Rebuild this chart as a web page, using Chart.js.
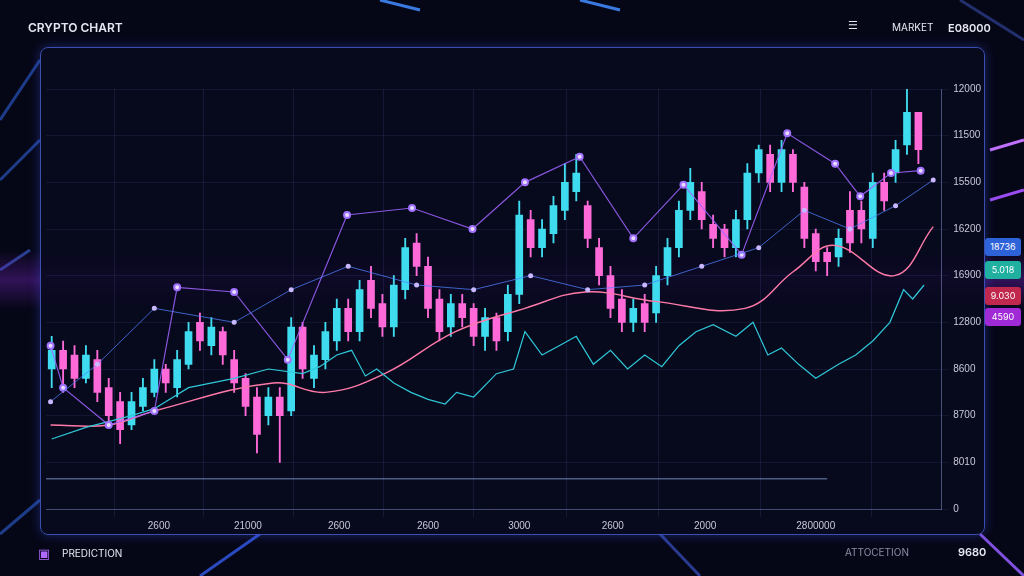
<!DOCTYPE html>
<html>
<head>
<meta charset="utf-8">
<script src="https://cdn.jsdelivr.net/npm/chart.js@4.4.1/dist/chart.umd.min.js"></script>
<style>
  html, body { margin: 0; padding: 0; background: #060716; width: 1024px; height: 576px; overflow: hidden; font-family: "Inter", "DejaVu Sans", sans-serif; }
  #bg { position: absolute; left: 0; top: 0; }
  .band { position: absolute; left: 0; top: 250px; width: 1024px; height: 60px;
    background: linear-gradient(180deg, rgba(120,40,200,0) 0%, rgba(130,40,210,0.35) 50%, rgba(120,40,200,0) 100%); }
  .panel { position: absolute; left: 40px; top: 47px; width: 943px; height: 486px; border: 1.5px solid #3a4fb0;
    border-radius: 8px; background: rgba(8,9,30,0.85); box-shadow: 0 0 12px rgba(70,90,255,0.35); }
  #wrap { position: absolute; left: 40px; top: 47px; width: 945px; height: 488px; }
  .t { position: absolute; color: #e8e8f4; font-size: 12px; font-weight: 600; }
  .badge { position: absolute; left: 985px; width: 36px; height: 18px; border-radius: 3px; color: #fff;
    font-size: 9px; line-height: 18px; text-align: center; }
</style>
</head>
<body>
<canvas id="bg" width="1024" height="576"></canvas>
<div class="band"></div>
<div class="panel"></div>
<div id="wrap"><canvas id="chart"></canvas></div>
<div class="t" style="left:28px;top:20px;font-size:12px;">CRYPTO CHART</div>
<div class="t" style="left:848px;top:18px;font-size:11px;">&#9776;</div>
<div class="t" style="left:892px;top:21px;font-size:10px;font-weight:400;">MARKET</div>
<div class="t" style="left:948px;top:21px;font-size:11px;">E08000</div>
<div class="t" style="left:38px;top:545px;color:#b068ff;font-size:13px;">&#9635;</div>
<div class="t" style="left:62px;top:547px;font-size:10px;font-weight:400;">PREDICTION</div>
<div class="t" style="left:845px;top:546px;font-size:10px;font-weight:400;color:#8a8fa8;">ATTOCETION</div>
<div class="t" style="left:958px;top:545px;font-size:11px;">9680</div>
<div class="badge" style="top:238px;background:#2e62d8;">18736</div>
<div class="badge" style="top:261px;background:#1fb0a0;">5.018</div>
<div class="badge" style="top:287px;background:#c0284e;">9.030</div>
<div class="badge" style="top:308px;background:#a02ad6;">4590</div>
<script>
// decorative background streaks
const bg = document.getElementById('bg').getContext('2d');
const streaks = [[0,120,40,60,'#1d3d8a'],[0,180,40,140,'#1d3d8a'],[0,270,30,250,'#28408f'],[990,150,1024,140,'#c070ff'],
  [990,200,1024,190,'#9a4cf0'],[200,576,260,534,'#2a4ac0'],[700,576,660,534,'#2a3a90'],[960,0,1024,40,'#22306e'],
  [980,534,1024,576,'#8050e0'],[0,534,40,500,'#1d3d8a'],[380,0,420,10,'#3a7ae0'],[580,0,620,10,'#3a7ae0']];
streaks.forEach(s => { bg.strokeStyle = s[4]; bg.lineWidth = 3; bg.beginPath(); bg.moveTo(s[0], s[1]); bg.lineTo(s[2], s[3]); bg.stroke(); });

// y axis tick labels (top to bottom reads 12000 ... 0)
const yTickLabels = ['0', '8010', '8700', '8600', '12800', '16900', '16200', '15500', '11500', '12000'];
const xTickPos = [10.4, 18.2, 26.2, 34, 42, 50.2, 58.3, 68];
const xTickLabels = ['2600', '21000', '2600', '2600', '3000', '2600', '2000', '2800000'];

// candles: open, close, high, low
const opens  = [300,340,330,280,320,260,230,180,220,250,300,260,310,400,350,380,320,280,240,200,240,210,390,280,320,360,430,380,490,440,390,470,570,520,450,390,440,430,370,410,380,460,620,560,590,640,680,650,560,500,450,400,440,420,500,560,640,680,610,600,560,620,720,760,700,760,690,590,550,540,640,640,580,700,720,780,850];
const closes = [340,300,280,330,250,200,170,230,260,300,270,320,380,360,390,330,270,220,160,240,200,390,300,330,380,430,380,470,430,390,480,560,520,430,380,440,410,370,410,360,460,630,560,600,650,700,720,580,500,430,400,430,400,500,560,640,700,620,580,560,620,720,770,700,770,700,580,530,530,580,570,600,700,660,770,850,770];
const highs  = [370,360,350,350,340,280,250,250,280,320,310,340,400,420,410,390,340,290,260,260,260,410,400,350,400,450,450,490,520,460,500,580,590,540,470,460,460,440,430,420,480,660,640,620,670,740,760,660,580,520,470,450,460,520,580,660,730,700,630,610,640,740,780,780,790,770,700,600,560,600,680,660,720,720,790,900,830];
const lows   = [260,250,260,270,230,180,140,170,210,240,250,240,300,340,330,310,250,200,120,180,100,200,280,260,300,340,360,360,410,370,370,450,500,410,360,370,390,350,340,340,360,440,540,540,570,620,660,560,480,410,380,380,380,400,480,540,620,600,560,540,540,600,700,680,680,680,560,510,500,520,550,570,560,640,700,760,740];

// moving average (pink)
const maX = [0.9, 6, 10, 20.4, 25, 30.2, 36.4, 42.5, 47.8, 53.9, 61.8, 66.1, 69.6, 74.9, 78.3];
const maY = [180, 180, 210, 270, 250, 290, 380, 430, 465, 445, 430, 510, 565, 500, 605];

// noisy cyan trace
const cyX = [1,4,8,10,13,17,20,23,24.5,26,27.3,28.5,29.5,31,32.5,34,35.5,36.5,38,40,41.5,42.5,44,45.5,47,48.5,50,51.5,53,54.5,56,57.5,59,61,62.5,63.8,65,66.5,68,70,71.5,73,74.5,75.7,76.5,77.5];
const cyY = [150,175,200,215,260,280,300,290,305,330,340,285,300,270,250,235,225,250,240,290,300,380,330,350,370,310,340,300,330,305,350,380,395,370,400,330,345,310,280,310,330,360,400,470,450,480];

// network of highs (purple/blue)
const netX = [0.9,2,6,10,12,17,21.7,26.9,32.6,37.9,42.5,47.3,52,56.4,61.5,65.5,69.7,71.9,74.6,77.2];
const netY = [350,260,180,210,475,465,320,630,645,600,700,755,580,695,545,805,740,670,720,725];
const net2X = [0.9,5,10,17,22,27,33,38,43,48,53,58,63,67,71,75,78.3];
const net2Y = [230,310,430,400,470,520,480,470,500,470,480,520,560,640,600,650,705];

const candleUp = '#3fdcef', candleDown = '#ff6ad8';
const idx = opens.map((_, i) => i + 1);
const col = idx.map((_, i) => closes[i] >= opens[i] ? candleUp : candleDown);

new Chart(document.getElementById('chart'), {
  data: {
    datasets: [
      { type: 'line', data: net2X.map((x, i) => ({ x, y: net2Y[i] })), borderColor: 'rgba(80,130,255,0.75)', borderWidth: 1,
        pointRadius: 2.5, pointBackgroundColor: '#c9b8ff', pointBorderWidth: 0, tension: 0 },
      { type: 'line', data: netX.map((x, i) => ({ x, y: netY[i] })), borderColor: 'rgba(160,100,255,0.85)', borderWidth: 1.2,
        pointRadius: 3, pointBackgroundColor: '#e8dcff', pointBorderColor: '#a070ff', pointBorderWidth: 2, tension: 0 },
      { type: 'line', data: cyX.map((x, i) => ({ x, y: cyY[i] })), borderColor: '#2fc8d8', borderWidth: 1.2, pointRadius: 0, tension: 0 },
      { type: 'line', data: maX.map((x, i) => ({ x, y: maY[i] })), borderColor: '#ff7aa8', borderWidth: 1.4, pointRadius: 0, tension: 0.4 },
      { type: 'bar', data: idx.map((x, i) => ({ x, y: [lows[i], highs[i]] })), backgroundColor: col, barThickness: 1.2 },
      { type: 'bar', data: idx.map((x, i) => ({ x, y: [opens[i], closes[i]] })), backgroundColor: col, barThickness: 7, grouped: false }
    ]
  },
  options: {
    responsive: true, maintainAspectRatio: false, animation: false,
    layout: { padding: { top: 42, right: 0, bottom: 0, left: 0 } },
    plugins: { legend: { display: false }, tooltip: { enabled: false } },
    datasets: { bar: { grouped: false } },
    scales: {
      x: {
        type: 'linear', min: 0.5, max: 79, offset: false,
        afterBuildTicks: s => { s.ticks = xTickPos.map(v => ({ value: v })); },
        ticks: { color: '#c8c8d8', font: { size: 10 }, maxRotation: 0, autoSkip: false,
          callback: (v, i) => xTickLabels[i] },
        grid: { color: 'rgba(90,100,170,0.18)' },
        border: { color: 'rgba(120,130,180,0.5)' }
      },
      y: {
        position: 'right', min: 0, max: 900,
        afterBuildTicks: s => { s.ticks = yTickLabels.map((_, i) => ({ value: i * 100 })); },
        ticks: { color: '#c8c8d8', font: { size: 10 }, padding: 4, callback: (v, i) => yTickLabels[i] },
        grid: { color: 'rgba(90,100,170,0.15)' },
        border: { color: 'rgba(120,130,180,0.6)' }
      }
    }
  },
  plugins: [{
    id: 'baseLine',
    beforeDatasetsDraw(c) {
      const { ctx, scales: { x, y } } = c;
      ctx.save(); ctx.strokeStyle = 'rgba(130,150,200,0.6)'; ctx.lineWidth = 1.5;
      ctx.beginPath(); ctx.moveTo(x.left, y.getPixelForValue(65)); ctx.lineTo(x.getPixelForValue(69), y.getPixelForValue(65)); ctx.stroke();
      ctx.restore();
    }
  }]
});
</script>
</body>
</html>
